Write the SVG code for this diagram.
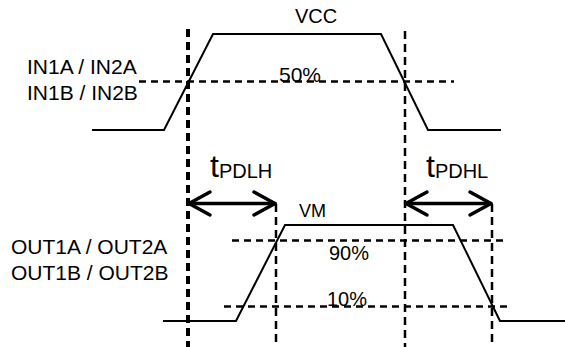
<svg xmlns="http://www.w3.org/2000/svg" width="565" height="347" viewBox="0 0 565 347">
<defs>
<style>
.wave{fill:none;stroke:#000;stroke-width:2}
.hdash{fill:none;stroke:#000;stroke-width:2.5;stroke-dasharray:7 5}
.vdash{fill:none;stroke:#000;stroke-width:2.5;stroke-dasharray:8 5}
.vdash-thick{fill:none;stroke:#000;stroke-width:4;stroke-dasharray:8 5}
.arrow{fill:none;stroke:#000;stroke-width:3.5;stroke-linecap:round;stroke-linejoin:round}
text{font-family:"Liberation Sans",Arial,sans-serif;fill:#000}
.lbl{font-size:21px}
.sm{font-size:20px}
.t{font-size:32px}
.sub{font-size:20px}
</style>
</defs>
<g id="connectors">
<line class="vdash-thick" x1="188" y1="29" x2="188" y2="347"/>
<line class="vdash" x1="405" y1="31" x2="405" y2="347"/>
<line class="vdash" x1="276" y1="204" x2="276" y2="347"/>
<line class="vdash" x1="492" y1="204" x2="492" y2="347"/>
<line class="hdash" x1="139" y1="81.5" x2="454" y2="81.5"/>
<line class="hdash" x1="232" y1="240.5" x2="503" y2="240.5"/>
<line class="hdash" x1="224" y1="306.5" x2="512" y2="306.5"/>
</g>
<g id="input-wave">
<polyline class="wave" points="92,130 164,130 213,34 381,34 428,130 501,130"/>
</g>
<g id="output-wave">
<polyline class="wave" points="163,321 236,321 285,225 453,225 500,321 565,321"/>
</g>
<g id="arrow-tpdlh">
<line class="arrow" x1="189" y1="203.5" x2="275" y2="203.5"/>
<polyline class="arrow" points="210,192 189,203.5 210,215"/>
<polyline class="arrow" points="254,192 275,203.5 254,215"/>
</g>
<g id="arrow-tpdhl">
<line class="arrow" x1="406" y1="203.5" x2="491" y2="203.5"/>
<polyline class="arrow" points="427,192 406,203.5 427,215"/>
<polyline class="arrow" points="470,192 491,203.5 470,215"/>
</g>
<g id="label-vcc"><text class="sm" x="295" y="22.5">VCC</text></g>
<g id="label-50"><text class="lbl" x="279" y="82">50%</text></g>
<g id="label-in">
<text class="lbl" x="27" y="73.5">IN1A / IN2A</text>
<text class="lbl" x="27" y="99.5">IN1B / IN2B</text>
</g>
<g id="label-out">
<text class="lbl" x="11" y="253.5">OUT1A / OUT2A</text>
<text class="lbl" x="11" y="279.5">OUT1B / OUT2B</text>
</g>
<g id="label-vm"><text style="font-size:18px" x="299" y="217">VM</text></g>
<g id="label-90"><text class="sm" x="329" y="259.5">90%</text></g>
<g id="label-10"><text class="sm" x="327" y="306">10%</text></g>
<g id="label-tpdlh"><text x="210" y="177"><tspan class="t">t</tspan><tspan class="sub" dy="1">PDLH</tspan></text></g>
<g id="label-tpdhl"><text x="426" y="177"><tspan class="t">t</tspan><tspan class="sub" dy="1">PDHL</tspan></text></g>
</svg>
